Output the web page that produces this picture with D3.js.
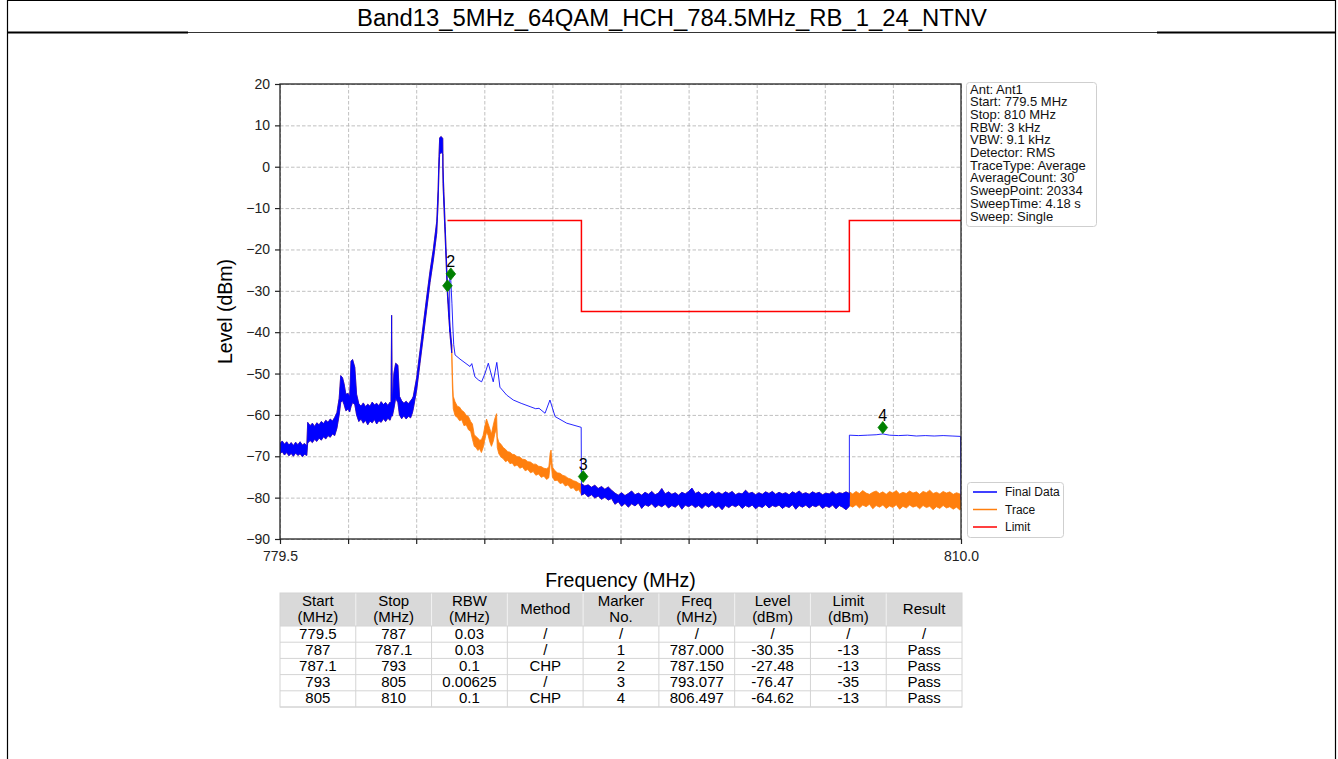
<!DOCTYPE html>
<html>
<head>
<meta charset="utf-8">
<script src="https://cdn.jsdelivr.net/npm/d3@7"></script>
<style>
  html, body { margin: 0; padding: 0; background: #fff; }
  svg { display: block; font-family: "Liberation Sans", Arial, sans-serif; }
</style>
</head>
<body>
<svg id="chart" width="1338" height="759"></svg>
<script>
// ---- chart data ----------------------------------------------------------
const titleText = "Band13_5MHz_64QAM_HCH_784.5MHz_RB_1_24_NTNV";

const freqDomain = [779.5, 810.0];
const levelDomain = [-90, 20];
const yTickValues = [-90, -80, -70, -60, -50, -40, -30, -20, -10, 0, 10, 20];
const xTickValues = [779.5, 782.55, 785.6, 788.65, 791.7, 794.75, 797.8, 800.85, 803.9, 806.95, 810.0];
const xTickLabels = ["779.5", "", "", "", "", "", "", "", "", "", "810.0"];

// raw sweep (Trace), as [freq MHz, low dBm, high dBm] envelope of the noisy trace
const envLeft = [
  [779.50,-69.4,-66.9],[779.60,-68.9,-66.3],[779.70,-69.7,-67.1],[779.80,-69.1,-66.5],
  [779.90,-69.9,-67.3],[780.00,-69.3,-66.7],[780.10,-70.0,-67.4],[780.20,-69.2,-66.6],
  [780.30,-69.8,-67.2],[780.40,-69.4,-66.5],[780.50,-70.1,-67.3],[780.60,-69.5,-66.9],
  [780.70,-69.8,-67.5],[780.74,-66.8,-61.8],[780.85,-66.2,-62.6],[780.95,-66.7,-62.0],
  [781.05,-65.9,-62.8],[781.15,-66.4,-61.9],[781.25,-65.6,-62.4],[781.35,-66.1,-61.6],
  [781.45,-65.3,-62.1],[781.55,-65.8,-61.3],[781.65,-65.0,-61.8],[781.75,-65.4,-61.0],
  [781.85,-64.6,-61.5],[781.95,-65.0,-60.6],[782.05,-63.2,-59.4],[782.15,-60.0,-56.0],
  [782.22,-57.0,-50.5],[782.30,-56.5,-51.0],[782.37,-57.5,-52.5],[782.45,-59.0,-55.0],
  [782.55,-58.6,-54.8],[782.62,-59.3,-55.6],[782.68,-58.0,-47.0],[782.75,-57.0,-46.6],
  [782.85,-57.5,-48.5],[782.93,-60.0,-55.0],[783.03,-61.6,-57.3],[783.13,-61.0,-57.9],
  [783.23,-62.0,-57.1],[783.33,-61.3,-58.0],[783.43,-62.4,-57.4],[783.53,-61.5,-57.9],
  [783.63,-61.9,-56.9],[783.73,-61.1,-57.6],[783.83,-62.2,-57.2],[783.93,-61.4,-57.8],
  [784.03,-61.8,-56.8],[784.13,-60.9,-57.5],[784.23,-61.6,-57.0],[784.33,-60.8,-57.7],
  [784.43,-61.3,-56.9],[784.47,-60.6,-57.2],[784.50,-60.0,-35.9],[784.53,-60.3,-57.3],
  [784.60,-58.5,-50.0],[784.68,-56.0,-47.5],[784.78,-57.0,-48.0],[784.85,-60.0,-55.5],
  [784.95,-60.9,-56.6],[785.05,-60.2,-57.2],[785.15,-61.0,-56.7],[785.25,-60.3,-57.3],
  [785.35,-60.7,-56.6],[785.43,-59.5,-56.0],[785.47,-58.5,-55.5],[785.62,-54.0,-51.0],
  [785.77,-47.5,-44.5],[785.92,-41.0,-38.0],[786.07,-34.5,-31.5],[786.22,-28.0,-25.2],
  [786.37,-22.5,-19.8],[786.52,-16.0,-13.2],[786.58,-9.0,-5.5],[786.62,-1.0,2.5],
  [786.65,3.0,7.0],[786.72,3.5,7.3],[786.79,3.0,6.8],[786.80,-4.0,0.0],
  [786.84,-9.5,-6.0],[786.90,-17.5,-14.5],[786.95,-24.5,-21.5],[787.00,-31.2,-29.0],
  [787.06,-36.5,-34.5],[787.12,-41.0,-39.0],[787.19,-45.0,-43.0]
];
const envChp1 = [
  [787.19,-45.0,-43.0],[787.22,-53.0,-50.0],[787.26,-58.5,-55.5],[787.34,-60.2,-56.8],
  [787.44,-60.6,-57.9],[787.54,-61.4,-58.1],[787.64,-61.2,-58.9],[787.74,-62.6,-59.3],
  [787.84,-62.4,-60.1],[787.94,-63.6,-60.4],[788.04,-64.0,-61.6],[788.12,-65.9,-62.2],
  [788.20,-67.6,-64.8],[788.28,-67.9,-65.2],[788.36,-68.6,-65.6],[788.44,-68.2,-66.1],
  [788.52,-69.1,-66.0],[788.60,-67.9,-64.9],[788.68,-65.8,-62.6],[788.75,-64.2,-61.0],
  [788.82,-64.9,-62.1],[788.90,-66.6,-63.4],[788.97,-67.6,-64.6],[789.05,-66.4,-62.5],
  [789.12,-64.6,-60.9],[789.20,-63.2,-59.7],[789.23,-67.9,-65.3],[789.30,-69.4,-66.6],
  [789.40,-70.2,-67.1],[789.50,-70.6,-67.9],[789.60,-71.3,-68.3],[789.70,-71.0,-68.9],
  [789.80,-71.8,-69.0],[789.90,-71.6,-69.5],[790.00,-72.4,-69.6],[790.12,-72.1,-70.1],
  [790.24,-72.9,-70.2],[790.36,-72.6,-70.7],[790.48,-73.5,-70.8],[790.60,-73.2,-71.3],
  [790.72,-74.0,-71.4],[790.84,-73.7,-71.9],[790.96,-74.6,-71.9],[791.08,-74.3,-72.4],
  [791.20,-75.1,-72.5],[791.32,-74.8,-72.9],[791.44,-75.6,-73.0],[791.54,-75.2,-72.6],
  [791.60,-72.2,-69.2],[791.64,-71.2,-68.5],[791.70,-75.0,-72.6],[791.80,-75.9,-73.4],
  [791.92,-75.8,-74.0],[792.04,-76.6,-74.1],[792.16,-76.4,-74.6],[792.28,-77.2,-74.8],
  [792.40,-76.9,-75.3],[792.52,-77.8,-75.5],[792.64,-77.6,-75.9],[792.76,-78.4,-76.1],
  [792.88,-78.1,-76.5],[793.00,-79.2,-76.8]
];
const envMid = [
  [793.00,-79.4,-76.6],[793.15,-79.0,-77.2],[793.30,-79.8,-76.9],[793.45,-79.3,-77.5],
  [793.60,-80.1,-77.0],[793.75,-79.6,-77.8],[793.90,-80.4,-77.3],[794.05,-79.9,-78.0],
  [794.20,-80.6,-77.4],[794.35,-80.2,-78.2],[794.50,-81.6,-78.9],[794.65,-81.0,-79.4],
  [794.80,-82.1,-78.8],[794.95,-81.4,-79.5],[795.10,-82.3,-79.0],[795.25,-81.5,-78.4],
  [795.40,-82.0,-79.3],[795.55,-81.3,-78.9],[795.70,-82.6,-79.4],[795.85,-81.7,-78.7],
  [796.00,-82.1,-79.2],[796.15,-81.5,-78.5],[796.30,-82.4,-79.3],[796.45,-81.8,-78.9],
  [796.60,-82.2,-77.8],[796.75,-81.6,-79.1],[796.90,-82.5,-78.6],[797.05,-81.9,-79.2],
  [797.20,-82.3,-78.8],[797.35,-81.6,-79.4],[797.50,-82.8,-78.7],[797.65,-81.8,-79.1],
  [797.80,-82.2,-78.5],[797.95,-81.7,-77.7],[798.10,-82.4,-79.0],[798.25,-81.9,-78.6],
  [798.40,-82.6,-79.3],[798.55,-81.8,-78.8],[798.70,-82.3,-79.2],[798.85,-81.7,-78.4],
  [799.00,-82.5,-79.1],[799.15,-82.0,-78.7],[799.30,-82.9,-79.2],[799.45,-81.9,-78.6],
  [799.60,-82.4,-79.0],[799.75,-81.8,-78.5],[799.90,-82.2,-79.3],[800.05,-81.7,-78.9],
  [800.20,-82.6,-79.1],[800.35,-81.9,-78.2],[800.50,-82.3,-79.0],[800.65,-81.8,-78.7],
  [800.80,-82.7,-79.3],[800.95,-82.0,-78.8],[801.10,-82.4,-79.2],[801.25,-81.7,-78.6],
  [801.40,-82.5,-79.0],[801.55,-81.9,-78.5],[801.70,-82.2,-79.2],[801.85,-81.8,-78.7],
  [802.00,-82.6,-79.1],[802.15,-82.0,-78.8],[802.30,-82.4,-79.3],[802.45,-81.7,-78.6],
  [802.60,-82.8,-79.0],[802.75,-81.9,-78.4],[802.90,-82.3,-79.1],[803.05,-81.8,-78.8],
  [803.20,-82.5,-79.2],[803.35,-81.9,-78.6],[803.50,-82.2,-79.0],[803.65,-81.7,-78.7],
  [803.80,-82.6,-79.3],[803.95,-82.0,-78.9],[804.10,-82.4,-79.1],[804.25,-81.8,-78.5],
  [804.40,-82.7,-79.2],[804.55,-81.9,-78.8],[804.70,-82.3,-79.0],[804.85,-82.9,-78.6],
  [805.00,-82.1,-79.0]
];
const envRight = [
  [805.00,-81.9,-78.6],[805.15,-82.3,-79.1],[805.30,-81.7,-78.5],[805.45,-82.5,-79.0],
  [805.60,-81.8,-78.3],[805.75,-82.2,-78.9],[805.90,-81.6,-79.2],[806.05,-82.7,-78.7],
  [806.20,-81.9,-78.4],[806.35,-82.3,-79.0],[806.50,-81.8,-78.6],[806.65,-82.6,-79.2],
  [806.80,-82.0,-78.5],[806.95,-82.4,-78.9],[807.10,-81.7,-78.3],[807.25,-82.8,-79.1],
  [807.40,-82.1,-78.7],[807.55,-82.5,-79.0],[807.70,-81.8,-78.4],[807.85,-82.3,-78.9],
  [808.00,-82.0,-78.6],[808.15,-82.7,-79.2],[808.30,-81.9,-78.5],[808.45,-82.4,-78.8],
  [808.60,-82.1,-78.2],[808.75,-82.9,-79.0],[808.90,-82.2,-78.7],[809.05,-82.6,-79.1],
  [809.20,-81.9,-78.5],[809.35,-82.5,-78.9],[809.50,-82.2,-78.6],[809.65,-82.8,-79.2],
  [809.80,-82.3,-78.8],[809.95,-83.0,-79.1],[810.00,-82.6,-79.3]
];

// channel-power (CHP) parts of Final Data, [freq MHz, level dBm]
const finalChp1 = [
  [787.10,-40.0],[787.10,-25.5],[787.15,-27.48],[787.20,-33.0],[787.24,-38.5],
  [787.28,-43.0],[787.34,-45.5],[787.56,-46.5],[788.01,-48.3],[788.09,-47.6],
  [788.23,-50.8],[788.40,-51.6],[788.53,-52.0],[788.68,-50.0],[788.83,-47.5],
  [789.05,-52.0],[789.21,-47.3],[789.35,-53.3],[789.65,-55.2],[789.95,-56.4],
  [790.30,-57.2],[790.70,-58.0],[790.95,-58.5],[791.10,-58.4],[791.37,-59.6],
  [791.59,-56.4],[791.82,-60.4],[792.34,-62.0],[792.99,-63.0],[793.00,-78.0]
];
const finalChp2 = [
  [805.00,-80.2],[805.00,-64.9],[805.40,-65.0],[805.80,-64.9],[806.20,-64.8],
  [806.50,-64.6],[806.80,-64.9],[807.20,-65.0],[807.60,-64.9],[808.00,-65.1],
  [808.40,-65.0],[808.80,-65.1],[809.20,-65.0],[809.60,-65.1],[809.98,-65.2],
  [810.00,-80.5]
];

// limit mask
const limitStart = [787.0, 787.1, 793.0, 805.0];
const limitStop  = [787.1, 793.0, 805.0, 810.0];
const limitLevel = [-13, -13, -35, -13];

// markers (marker 1's number sits under marker 2's diamond, so it is not printed)
const markerNo    = [1, 2, 3, 4];
const markerFreq  = [787.000, 787.150, 793.077, 806.497];
const markerLevel = [-30.35, -27.48, -76.47, -64.62];
const markerNumberShown = [false, true, true, true];

// measurement settings box
const infoLines = [
  "Ant: Ant1", "Start: 779.5 MHz", "Stop: 810 MHz", "RBW: 3 kHz", "VBW: 9.1 kHz",
  "Detector: RMS", "TraceType: Average", "AverageCount: 30", "SweepPoint: 20334",
  "SweepTime: 4.18 s", "Sweep: Single"
];

// result table
const tblHeader = [["Start","(MHz)"],["Stop","(MHz)"],["RBW","(MHz)"],["Method"],["Marker","No."],
                   ["Freq","(MHz)"],["Level","(dBm)"],["Limit","(dBm)"],["Result"]];
const tblStart  = ["779.5", "787", "787.1", "793", "805"];
const tblStop   = ["787", "787.1", "793", "805", "810"];
const tblRbw    = ["0.03", "0.03", "0.1", "0.00625", "0.1"];
const tblMethod = ["/", "/", "CHP", "/", "CHP"];
const tblLimit  = ["/", "-13", "-13", "-35", "-13"];
const tblResult = ["/", "Pass", "Pass", "Pass", "Pass"];

// ---- drawing ----------------------------------------------------------------
const svg = d3.select("#chart");
const W = 1338, H = 759;
const plot = { left: 280, right: 961, top: 84, bottom: 539 };

const x = d3.scaleLinear().domain(freqDomain).range([plot.left, plot.right]);
const y = d3.scaleLinear().domain(levelDomain).range([plot.bottom, plot.top]);

// page frame and title
svg.append("rect").attr("width", W).attr("height", H).attr("fill", "#fff");
const frame = svg.append("g").attr("stroke", "#000").attr("fill", "none");
frame.append("line").attr("x1", 7.5).attr("x2", 7.5).attr("y1", 0).attr("y2", H).attr("stroke-width", 1.2);
frame.append("line").attr("x1", 1335.5).attr("x2", 1335.5).attr("y1", 0).attr("y2", H).attr("stroke-width", 1.2);
frame.append("line").attr("x1", 7).attr("x2", 1336).attr("y1", 0.5).attr("y2", 0.5).attr("stroke-width", 1);
frame.append("line").attr("x1", 7).attr("x2", 1336).attr("y1", 32.5).attr("y2", 32.5).attr("stroke-width", 0.8);
frame.append("line").attr("x1", 7).attr("x2", 188).attr("y1", 32.5).attr("y2", 32.5).attr("stroke-width", 2.2);
frame.append("line").attr("x1", 1157).attr("x2", 1336).attr("y1", 32.5).attr("y2", 32.5).attr("stroke-width", 2.2);

svg.append("text")
  .attr("x", 672).attr("y", 26)
  .attr("text-anchor", "middle")
  .attr("font-size", 23)
  .attr("textLength", 630).attr("lengthAdjust", "spacingAndGlyphs")
  .text(titleText);

// grid
const grid = svg.append("g").attr("class", "grid");
grid.append("g")
  .attr("transform", `translate(${plot.left},0)`)
  .call(d3.axisLeft(y).tickValues(yTickValues).tickSize(-(plot.right - plot.left)).tickFormat(""))
  .call(g => g.select(".domain").remove());
grid.append("g")
  .attr("transform", `translate(0,${plot.bottom})`)
  .call(d3.axisBottom(x).tickValues(xTickValues).tickSize(-(plot.bottom - plot.top)).tickFormat(""))
  .call(g => g.select(".domain").remove());
grid.selectAll("line")
  .attr("stroke", "#b0b0b0").attr("stroke-width", 0.8).attr("stroke-dasharray", "3.5,2");

// traces
svg.append("defs").append("clipPath").attr("id", "plotclip")
  .append("rect").attr("x", plot.left).attr("y", plot.top)
  .attr("width", plot.right - plot.left).attr("height", plot.bottom - plot.top);
const traces = svg.append("g").attr("clip-path", "url(#plotclip)");

const band = d3.area().x(d => x(d[0])).y0(d => y(d[1])).y1(d => y(d[2]));
const line = d3.line().x(d => x(d[0])).y(d => y(d[1]));

const ORANGE = "#ff7f0e", BLUE = "#0000ff", RED = "#ff0000", GREEN = "#008000";

// Trace: the whole raw sweep
[envLeft, envChp1, envMid, envRight].forEach(seg => {
  traces.append("path").attr("d", band(seg))
    .attr("fill", ORANGE).attr("stroke", ORANGE).attr("stroke-width", 0.8).attr("stroke-linejoin", "miter");
});
// Final Data: raw sweep where no channel-power correction applies, CHP result elsewhere
[envLeft, envMid].forEach(seg => {
  traces.append("path").attr("d", band(seg))
    .attr("fill", BLUE).attr("stroke", BLUE).attr("stroke-width", 0.8).attr("stroke-linejoin", "miter");
});
[finalChp1, finalChp2].forEach(seg => {
  traces.append("path").attr("d", line(seg))
    .attr("fill", "none").attr("stroke", BLUE).attr("stroke-width", 1).attr("stroke-opacity", 0.85);
});

// limit mask
const limitPts = [];
limitStart.forEach((s, i) => { limitPts.push([s, limitLevel[i]], [limitStop[i], limitLevel[i]]); });
traces.append("path").attr("d", line(limitPts))
  .attr("fill", "none").attr("stroke", RED).attr("stroke-width", 1.5);

// markers: diamond sits just above the measured point, number above it
const diamond = "M0,-6 L4.8,0 L0,6 L-4.8,0 Z";
markerNo.forEach((n, i) => {
  const mx = x(markerFreq[i]), my = y(markerLevel[i]);
  svg.append("path").attr("d", diamond)
    .attr("transform", `translate(${mx},${my - 6.5})`)
    .attr("fill", GREEN).attr("stroke", GREEN).attr("stroke-width", 0.8);
  if (markerNumberShown[i]) {
    svg.append("text").attr("x", mx).attr("y", my - 13.5)
      .attr("text-anchor", "middle").attr("font-size", 16).attr("fill", "#000")
      .text(n);
  }
});

// spines
svg.append("rect")
  .attr("x", plot.left).attr("y", plot.top)
  .attr("width", plot.right - plot.left).attr("height", plot.bottom - plot.top)
  .attr("fill", "none").attr("stroke", "#222").attr("stroke-width", 1.3);

// axes
const yAxis = svg.append("g")
  .attr("transform", `translate(${plot.left},0)`)
  .call(d3.axisLeft(y).tickValues(yTickValues).tickSize(5).tickPadding(5).tickFormat(d3.format("d")));
const xAxis = svg.append("g")
  .attr("transform", `translate(0,${plot.bottom})`)
  .call(d3.axisBottom(x).tickValues(xTickValues).tickSize(5).tickPadding(7)
        .tickFormat((d, i) => xTickLabels[i]));
[yAxis, xAxis].forEach(a => {
  a.select(".domain").remove();
  a.selectAll("line").attr("stroke", "#222").attr("stroke-width", 1.2);
  a.selectAll("text").attr("font-size", 14).attr("fill", "#222")
    .attr("font-family", "'Liberation Sans', Arial, sans-serif");
});

svg.append("text")
  .attr("transform", `translate(232,${(plot.top + plot.bottom) / 2}) rotate(-90)`)
  .attr("text-anchor", "middle").attr("font-size", 19.5).attr("fill", "#000")
  .text("Level (dBm)");
svg.append("text")
  .attr("x", (plot.left + plot.right) / 2).attr("y", 587)
  .attr("text-anchor", "middle").attr("font-size", 19.5).attr("fill", "#000")
  .text("Frequency (MHz)");

// settings box
const info = svg.append("g");
info.append("rect").attr("x", 966.5).attr("y", 82.5).attr("width", 130).attr("height", 144).attr("rx", 3)
  .attr("fill", "#fff").attr("stroke", "#cfcfcf").attr("stroke-width", 1);
info.selectAll("text").data(infoLines).join("text")
  .attr("x", 970).attr("y", (d, i) => 93.5 + i * 12.7)
  .attr("font-size", 13).attr("fill", "#111")
  .text(d => d);

// legend
const legendItems = [["Final Data", BLUE], ["Trace", ORANGE], ["Limit", RED]];
const legend = svg.append("g");
legend.append("rect").attr("x", 967.5).attr("y", 482.5).attr("width", 96).attr("height", 55).attr("rx", 3)
  .attr("fill", "#fff").attr("stroke", "#cfcfcf");
legendItems.forEach(([label, color], i) => {
  const ly = 492 + i * 17.5;
  legend.append("line").attr("x1", 973).attr("x2", 997).attr("y1", ly).attr("y2", ly)
    .attr("stroke", color).attr("stroke-width", 1.5);
  legend.append("text").attr("x", 1005).attr("y", ly + 4).attr("font-size", 12).attr("fill", "#111").text(label);
});

// result table
const tbl = { left: 280, width: 682, top: 593, headH: 33, rowH: 16.2 };
const colW = tbl.width / tblHeader.length;
const rows = tblStart.map((s, i) => [
  s, tblStop[i], tblRbw[i], tblMethod[i],
  i === 0 ? "/" : String(markerNo[i - 1]),
  i === 0 ? "/" : markerFreq[i - 1].toFixed(3),
  i === 0 ? "/" : markerLevel[i - 1].toFixed(2),
  tblLimit[i], tblResult[i]
]);
const table = svg.append("g").attr("font-size", 15).attr("fill", "#000");
table.append("rect").attr("x", tbl.left).attr("y", tbl.top).attr("width", tbl.width).attr("height", tbl.headH)
  .attr("fill", "#d9d9d9");
tblHeader.forEach((lines, c) => {
  const cx = tbl.left + colW * (c + 0.5);
  const baseY = lines.length === 2 ? tbl.top + 13 : tbl.top + 21;
  lines.forEach((t, k) => {
    table.append("text").attr("x", cx).attr("y", baseY + k * 16)
      .attr("text-anchor", "middle").text(t);
  });
});
rows.forEach((r, ri) => {
  const ry = tbl.top + tbl.headH + ri * tbl.rowH;
  r.forEach((t, c) => {
    table.append("text").attr("x", tbl.left + colW * (c + 0.5)).attr("y", ry + 12.5)
      .attr("text-anchor", "middle").text(t);
  });
});
const tblBottom = tbl.top + tbl.headH + rows.length * tbl.rowH;
const tblLines = svg.append("g").attr("stroke", "#d4d4d4").attr("stroke-width", 1);
d3.range(1, tblHeader.length).forEach(c => {
  const lx = tbl.left + colW * c;
  tblLines.append("line").attr("x1", lx).attr("x2", lx).attr("y1", tbl.top + tbl.headH).attr("y2", tblBottom);
  tblLines.append("line").attr("x1", lx).attr("x2", lx).attr("y1", tbl.top).attr("y2", tbl.top + tbl.headH)
    .attr("stroke", "#f2f2f2");
});
d3.range(0, rows.length + 1).forEach(ri => {
  const ly = tbl.top + tbl.headH + ri * tbl.rowH;
  tblLines.append("line").attr("x1", tbl.left).attr("x2", tbl.left + tbl.width).attr("y1", ly).attr("y2", ly);
});
tblLines.append("rect").attr("x", tbl.left).attr("y", tbl.top).attr("width", tbl.width)
  .attr("height", tblBottom - tbl.top).attr("fill", "none");
</script>
</body>
</html>
